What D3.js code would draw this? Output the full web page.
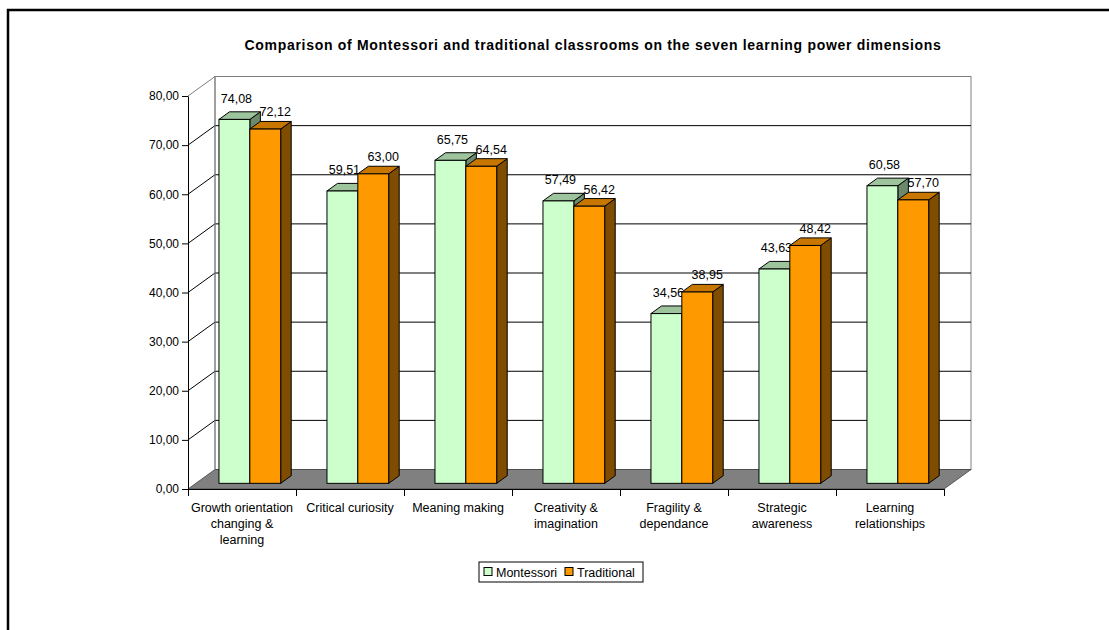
<!DOCTYPE html>
<html>
<head>
<meta charset="utf-8">
<script src="https://cdn.jsdelivr.net/npm/d3@7"></script>
<style>
  body { margin: 0; background: #fff; }
  svg { display: block; font-family: Arial, "Liberation Sans", sans-serif; }
</style>
</head>
<body>
<div id="chart"></div>
<script>
// chart data
var categories = ["Growth orientation changing & learning", "Critical curiosity", "Meaning making",
  "Creativity & imagination", "Fragility & dependance", "Strategic awareness", "Learning relationships"];
var seriesNames = ["Montessori", "Traditional"];
var montessori = [74.08, 59.51, 65.75, 57.49, 34.56, 43.63, 60.58];
var traditional = [72.12, 63.00, 64.54, 56.42, 38.95, 48.42, 57.70];
var yTicks = [0, 10, 20, 30, 40, 50, 60, 70, 80];
var title = "Comparison of Montessori and traditional classrooms on the seven learning power dimensions";

var W = 1109, H = 630;
// depth of the 3d box (projected offset of the back plane)
var DX = 27, DY = -19.5;
var z0 = 0.29, z1 = 0.68;   // bar front / back depth

var colors = {
  Montessori: { front: "#CCFFCC", top: "#9DC49D", side: "#6B8A6B" },
  Traditional: { front: "#FF9900", top: "#C77700", side: "#7F4C00" }
};

var fmt = d3.formatLocale({ decimal: ",", thousands: ".", grouping: [3], currency: ["", ""] }).format(".2f");

var svg = d3.select("#chart").append("svg")
  .attr("width", W)
  .attr("height", H);

// outer frame (only top and left visible)
svg.append("path")
  .attr("d", "M8," + H + "V10H" + W)
  .attr("fill", "none")
  .attr("stroke", "#000")
  .attr("stroke-width", 2.5);

svg.append("text")
  .attr("x", 593)
  .attr("y", 50)
  .attr("text-anchor", "middle")
  .attr("font-size", 14)
  .attr("letter-spacing", 0.7)
  .attr("font-weight", "bold")
  .text(title);

var y = d3.scaleLinear().domain([0, 80]).range([489, 96]);
var x0 = d3.scaleBand().domain(categories).range([188, 944]);
var x1 = d3.scaleBand().domain(seriesNames).range([0, x0.bandwidth()])
  .paddingInner(0).paddingOuter(0.75);

var left = x0.range()[0], right = x0.range()[1];

// back wall
svg.append("rect")
  .attr("x", left + DX)
  .attr("y", y(80) + DY)
  .attr("width", right - left)
  .attr("height", y(0) - y(80))
  .attr("fill", "#fff")
  .attr("stroke", "#808080");

// floor
svg.append("path")
  .attr("d", "M" + left + "," + y(0) + "L" + (left + DX) + "," + (y(0) + DY) +
    "H" + (right + DX) + "L" + right + "," + y(0) + "Z")
  .attr("fill", "#808080")
  .attr("stroke", "#404040")
  .attr("stroke-width", 0.8);

// gridlines: back wall + left wall
var grid = svg.append("g");
grid.selectAll(".back").data(yTicks.filter(function(d) { return d > 0; }))
  .enter().append("line")
    .attr("x1", left + DX).attr("x2", right + DX)
    .attr("y1", function(d) { return y(d) + DY; })
    .attr("y2", function(d) { return y(d) + DY; })
    .attr("stroke", function(d) { return d == 80 ? "#808080" : "#000"; });
grid.selectAll(".side").data(yTicks.filter(function(d) { return d > 0; }))
  .enter().append("line")
    .attr("x1", left).attr("x2", left + DX)
    .attr("y1", function(d) { return y(d); })
    .attr("y2", function(d) { return y(d) + DY; })
    .attr("stroke", function(d) { return d == 80 ? "#808080" : "#000"; });
grid.append("line")
  .attr("x1", left + DX).attr("x2", left + DX)
  .attr("y1", y(80) + DY).attr("y2", y(0) + DY)
  .attr("stroke", "#808080");

// bars
var rows = [];
categories.forEach(function(c, i) {
  rows.push({ cat: c, s: "Montessori", v: montessori[i] });
  rows.push({ cat: c, s: "Traditional", v: traditional[i] });
});

var bdx = (z1 - z0) * DX, bdy = (z1 - z0) * DY;
var bars = svg.append("g").selectAll("g").data(rows).enter().append("g");

function xl(d) { return x0(d.cat) + x1(d.s) + z0 * DX; }
function xr(d) { return xl(d) + x1.bandwidth(); }
function yt(d) { return y(d.v) + z0 * DY; }
function yb() { return y(0) + z0 * DY; }

bars.append("path")
  .attr("d", function(d) {
    return "M" + xr(d) + "," + yt(d) + "l" + bdx + "," + bdy + "V" + (yb() + bdy) +
      "L" + xr(d) + "," + yb() + "Z";
  })
  .attr("fill", function(d) { return colors[d.s].side; })
  .attr("stroke", "#000");
bars.append("path")
  .attr("d", function(d) {
    return "M" + xl(d) + "," + yt(d) + "l" + bdx + "," + bdy + "H" + (xr(d) + bdx) +
      "L" + xr(d) + "," + yt(d) + "Z";
  })
  .attr("fill", function(d) { return colors[d.s].top; })
  .attr("stroke", "#000");
bars.append("rect")
  .attr("x", xl)
  .attr("y", yt)
  .attr("width", x1.bandwidth())
  .attr("height", function(d) { return yb() - yt(d); })
  .attr("fill", function(d) { return colors[d.s].front; })
  .attr("stroke", "#000");

// value labels
bars.append("text")
  .attr("x", function(d) { return (xl(d) + xr(d)) / 2 + (d.s == "Montessori" ? 2 : 10); })
  .attr("y", function(d) { return yt(d) + bdy - (d.s == "Montessori" ? 9 : 5); })
  .attr("text-anchor", "middle")
  .attr("font-size", 12.5)
  .text(function(d) { return fmt(d.v); });

// y axis
var yAxis = svg.append("g")
  .attr("transform", "translate(" + left + ",0)")
  .call(d3.axisLeft(y).tickValues(yTicks).tickSize(6).tickSizeOuter(0).tickFormat(fmt));
yAxis.selectAll("text").attr("font-size", 12).attr("font-family", null).attr("fill", "#000");
yAxis.select(".domain").attr("stroke", "#000");

// x axis (ticks at category boundaries)
var xIdx = d3.scaleLinear().domain([0, categories.length]).range([left, right]);
var xAxis = svg.append("g")
  .attr("transform", "translate(0," + y(0) + ")")
  .call(d3.axisBottom(xIdx).ticks(categories.length).tickSize(7).tickSizeOuter(0).tickFormat(""));
xAxis.select(".domain").attr("stroke", "#000");

// category labels, wrapped to the band width
var catLabels = svg.append("g").selectAll("text").data(categories).enter().append("text")
  .attr("x", function(d) { return x0(d) + x0.bandwidth() / 2; })
  .attr("y", 512)
  .attr("text-anchor", "middle")
  .attr("font-size", 12.5);

catLabels.each(function(d) {
  var el = d3.select(this), words = d.split(" "), line = [];
  var tspan = el.append("tspan").attr("x", el.attr("x")).attr("dy", 0);
  words.forEach(function(w) {
    line.push(w);
    tspan.text(line.join(" "));
    if (tspan.node().getComputedTextLength() > x0.bandwidth() && line.length > 1) {
      line.pop();
      tspan.text(line.join(" "));
      line = [w];
      tspan = el.append("tspan").attr("x", el.attr("x")).attr("dy", 16).text(w);
    }
  });
});

// legend
var legend = svg.append("g").attr("transform", "translate(479,562)");
legend.append("rect")
  .attr("width", 164).attr("height", 20)
  .attr("fill", "#fff").attr("stroke", "#000");
var items = legend.selectAll(".item").data(seriesNames).enter().append("g")
  .attr("transform", function(d, i) { return "translate(" + (5 + i * 81) + ",0)"; });
items.append("rect")
  .attr("y", 5.5).attr("width", 8).attr("height", 8)
  .attr("fill", function(d) { return colors[d].front; })
  .attr("stroke", "#000");
items.append("text")
  .attr("x", 12).attr("y", 14.5)
  .attr("font-size", 12.5)
  .text(function(d) { return d; });
</script>
</body>
</html>
